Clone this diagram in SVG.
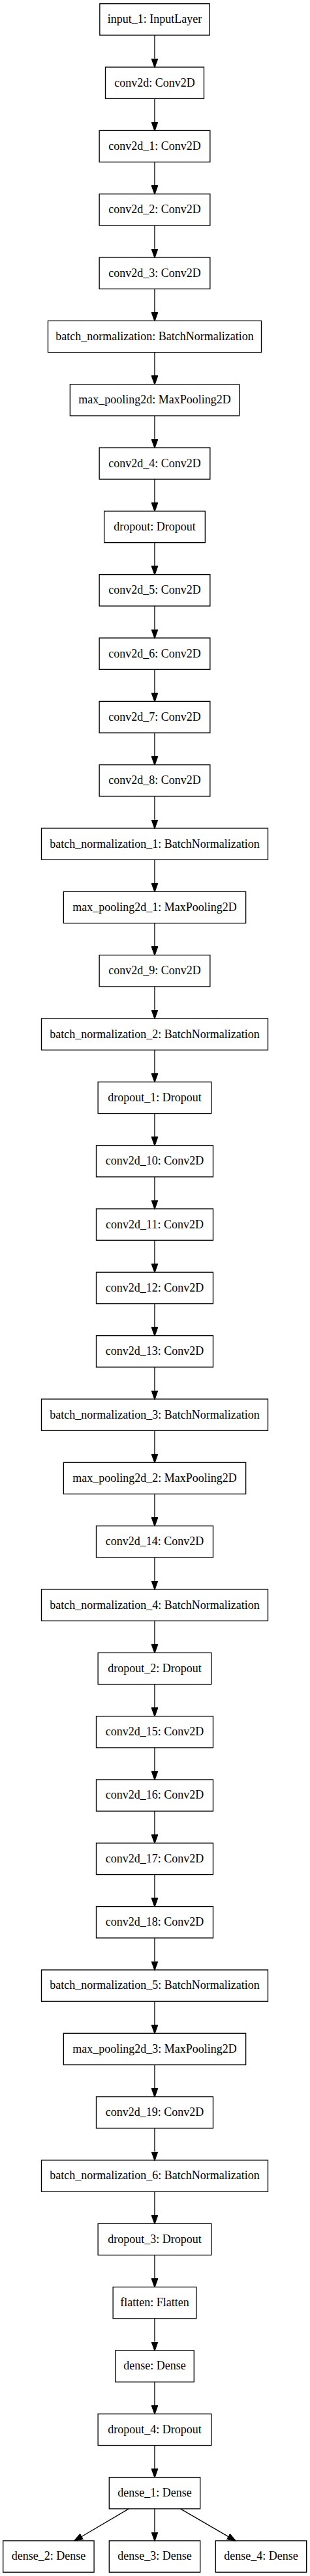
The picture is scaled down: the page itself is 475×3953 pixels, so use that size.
<svg xmlns="http://www.w3.org/2000/svg" width="475" height="3953" viewBox="0 0 475 3953">
<style>
rect{fill:#fff;stroke:#000;stroke-width:1.33}
text{font-family:"Liberation Serif","Times New Roman",serif;font-size:18px;fill:#000;text-anchor:middle}
.e{stroke:#000;stroke-width:1.33;fill:none}
</style>
<defs>
<marker id="ah" markerUnits="userSpaceOnUse" markerWidth="14" markerHeight="10" viewBox="0 0 13.3 9.4" refX="0" refY="4.7" orient="auto">
<path d="M0,0 L13.3,4.7 L0,9.4 z" fill="#000" stroke="#000" stroke-width="1"/>
</marker>
</defs>
<rect x="0" y="0" width="475" height="3953" style="stroke:none"/>
<g id="n1"><rect x="152.85" y="5.7" width="168.3" height="48.3"/><text x="237" y="35.2">input_1: InputLayer</text></g>
<g id="n2"><rect x="161.5" y="103.03" width="151" height="48.3"/><text x="237" y="132.5">conv2d: Conv2D</text></g>
<g id="n3"><rect x="152.15" y="200.36" width="169.7" height="48.3"/><text x="237" y="229.9">conv2d_1: Conv2D</text></g>
<g id="n4"><rect x="152.15" y="297.69" width="169.7" height="48.3"/><text x="237" y="327.2">conv2d_2: Conv2D</text></g>
<g id="n5"><rect x="152.15" y="395.02" width="169.7" height="48.3"/><text x="237" y="424.5">conv2d_3: Conv2D</text></g>
<g id="n6"><rect x="73.5" y="492.35" width="327" height="48.3"/><text x="237" y="521.9">batch_normalization: BatchNormalization</text></g>
<g id="n7"><rect x="107.35" y="589.68" width="259.3" height="48.3"/><text x="237" y="619.2">max_pooling2d: MaxPooling2D</text></g>
<g id="n8"><rect x="152.15" y="687.01" width="169.7" height="48.3"/><text x="237" y="716.5">conv2d_4: Conv2D</text></g>
<g id="n9"><rect x="159.65" y="784.34" width="154.7" height="48.3"/><text x="237" y="813.8">dropout: Dropout</text></g>
<g id="n10"><rect x="152.15" y="881.67" width="169.7" height="48.3"/><text x="237" y="911.2">conv2d_5: Conv2D</text></g>
<g id="n11"><rect x="152.15" y="979" width="169.7" height="48.3"/><text x="237" y="1008.5">conv2d_6: Conv2D</text></g>
<g id="n12"><rect x="152.15" y="1076.33" width="169.7" height="48.3"/><text x="237" y="1105.8">conv2d_7: Conv2D</text></g>
<g id="n13"><rect x="152.15" y="1173.66" width="169.7" height="48.3"/><text x="237" y="1203.2">conv2d_8: Conv2D</text></g>
<g id="n14"><rect x="63.5" y="1270.99" width="347" height="48.3"/><text x="237" y="1300.5">batch_normalization_1: BatchNormalization</text></g>
<g id="n15"><rect x="97.35" y="1368.32" width="279.3" height="48.3"/><text x="237" y="1397.8">max_pooling2d_1: MaxPooling2D</text></g>
<g id="n16"><rect x="152.15" y="1465.65" width="169.7" height="48.3"/><text x="237" y="1495.2">conv2d_9: Conv2D</text></g>
<g id="n17"><rect x="63.5" y="1562.98" width="347" height="48.3"/><text x="237" y="1592.5">batch_normalization_2: BatchNormalization</text></g>
<g id="n18"><rect x="150.15" y="1660.31" width="173.7" height="48.3"/><text x="237" y="1689.8">dropout_1: Dropout</text></g>
<g id="n19"><rect x="147.5" y="1757.64" width="179" height="48.3"/><text x="237" y="1787.1">conv2d_10: Conv2D</text></g>
<g id="n20"><rect x="147.5" y="1854.97" width="179" height="48.3"/><text x="237" y="1884.5">conv2d_11: Conv2D</text></g>
<g id="n21"><rect x="147.5" y="1952.3" width="179" height="48.3"/><text x="237" y="1981.8">conv2d_12: Conv2D</text></g>
<g id="n22"><rect x="147.5" y="2049.63" width="179" height="48.3"/><text x="237" y="2079.1">conv2d_13: Conv2D</text></g>
<g id="n23"><rect x="63.5" y="2146.96" width="347" height="48.3"/><text x="237" y="2176.5">batch_normalization_3: BatchNormalization</text></g>
<g id="n24"><rect x="97.35" y="2244.29" width="279.3" height="48.3"/><text x="237" y="2273.8">max_pooling2d_2: MaxPooling2D</text></g>
<g id="n25"><rect x="147.5" y="2341.62" width="179" height="48.3"/><text x="237" y="2371.1">conv2d_14: Conv2D</text></g>
<g id="n26"><rect x="63.5" y="2438.95" width="347" height="48.3"/><text x="237" y="2468.5">batch_normalization_4: BatchNormalization</text></g>
<g id="n27"><rect x="150.15" y="2536.28" width="173.7" height="48.3"/><text x="237" y="2565.8">dropout_2: Dropout</text></g>
<g id="n28"><rect x="147.5" y="2633.61" width="179" height="48.3"/><text x="237" y="2663.1">conv2d_15: Conv2D</text></g>
<g id="n29"><rect x="147.5" y="2730.94" width="179" height="48.3"/><text x="237" y="2760.4">conv2d_16: Conv2D</text></g>
<g id="n30"><rect x="147.5" y="2828.27" width="179" height="48.3"/><text x="237" y="2857.8">conv2d_17: Conv2D</text></g>
<g id="n31"><rect x="147.5" y="2925.6" width="179" height="48.3"/><text x="237" y="2955.1">conv2d_18: Conv2D</text></g>
<g id="n32"><rect x="63.5" y="3022.93" width="347" height="48.3"/><text x="237" y="3052.4">batch_normalization_5: BatchNormalization</text></g>
<g id="n33"><rect x="97.35" y="3120.26" width="279.3" height="48.3"/><text x="237" y="3149.8">max_pooling2d_3: MaxPooling2D</text></g>
<g id="n34"><rect x="147.5" y="3217.59" width="179" height="48.3"/><text x="237" y="3247.1">conv2d_19: Conv2D</text></g>
<g id="n35"><rect x="63.5" y="3314.92" width="347" height="48.3"/><text x="237" y="3344.4">batch_normalization_6: BatchNormalization</text></g>
<g id="n36"><rect x="150.15" y="3412.25" width="173.7" height="48.3"/><text x="237" y="3441.8">dropout_3: Dropout</text></g>
<g id="n37"><rect x="173.15" y="3509.58" width="127.7" height="48.3"/><text x="237" y="3539.1">flatten: Flatten</text></g>
<g id="n38"><rect x="176.7" y="3606.91" width="120.6" height="48.3"/><text x="237" y="3636.4">dense: Dense</text></g>
<g id="n39"><rect x="150.15" y="3704.24" width="173.7" height="48.3"/><text x="237" y="3733.7">dropout_4: Dropout</text></g>
<g id="n40"><rect x="167.3" y="3801.57" width="139.4" height="48.3"/><text x="237" y="3831.1">dense_1: Dense</text></g>
<g id="n41"><rect x="4.7" y="3898.9" width="139.4" height="48.3"/><text x="74.4" y="3928.4">dense_2: Dense</text></g>
<g id="n42"><rect x="167.3" y="3898.9" width="139.4" height="48.3"/><text x="237" y="3928.4">dense_3: Dense</text></g>
<g id="n43"><rect x="330.3" y="3898.9" width="139.4" height="48.3"/><text x="400" y="3928.4">dense_4: Dense</text></g>
<g id="edges" class="e" marker-end="url(#ah)">
<path d="M237,54 V89.73"/>
<path d="M237,151.33 V187.06"/>
<path d="M237,248.66 V284.39"/>
<path d="M237,345.99 V381.72"/>
<path d="M237,443.32 V479.05"/>
<path d="M237,540.65 V576.38"/>
<path d="M237,637.98 V673.71"/>
<path d="M237,735.31 V771.04"/>
<path d="M237,832.64 V868.37"/>
<path d="M237,929.97 V965.7"/>
<path d="M237,1027.3 V1063.03"/>
<path d="M237,1124.63 V1160.36"/>
<path d="M237,1221.96 V1257.69"/>
<path d="M237,1319.29 V1355.02"/>
<path d="M237,1416.62 V1452.35"/>
<path d="M237,1513.95 V1549.68"/>
<path d="M237,1611.28 V1647.01"/>
<path d="M237,1708.61 V1744.34"/>
<path d="M237,1805.94 V1841.67"/>
<path d="M237,1903.27 V1939"/>
<path d="M237,2000.6 V2036.33"/>
<path d="M237,2097.93 V2133.66"/>
<path d="M237,2195.26 V2230.99"/>
<path d="M237,2292.59 V2328.32"/>
<path d="M237,2389.92 V2425.65"/>
<path d="M237,2487.25 V2522.98"/>
<path d="M237,2584.58 V2620.31"/>
<path d="M237,2681.91 V2717.64"/>
<path d="M237,2779.24 V2814.97"/>
<path d="M237,2876.57 V2912.3"/>
<path d="M237,2973.9 V3009.63"/>
<path d="M237,3071.23 V3106.96"/>
<path d="M237,3168.56 V3204.29"/>
<path d="M237,3265.89 V3301.62"/>
<path d="M237,3363.22 V3398.95"/>
<path d="M237,3460.55 V3496.28"/>
<path d="M237,3557.88 V3593.61"/>
<path d="M237,3655.21 V3690.94"/>
<path d="M237,3752.54 V3788.27"/>
<path d="M237,3849.87 V3885.6"/>
<path d="M197.3,3849.87 L125.5,3892.2"/>
<path d="M276.5,3849.87 L349.5,3892.3"/>
</g>
</svg>
